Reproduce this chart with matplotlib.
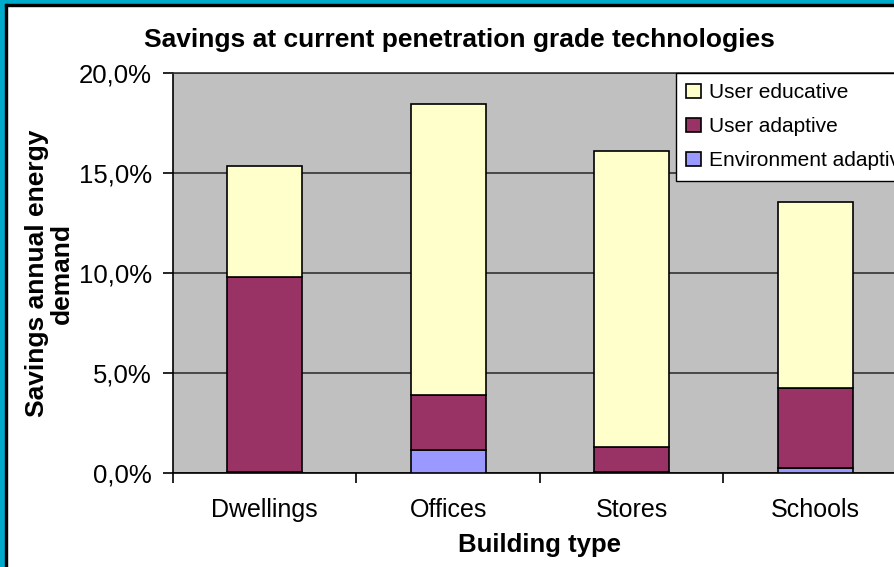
import numpy as np
import matplotlib
matplotlib.use("Agg")
import matplotlib.pyplot as plt
from matplotlib.patches import Rectangle
from matplotlib.ticker import FuncFormatter

# --- data (percent of annual energy demand) ---------------------------------
categories = ["Dwellings", "Offices", "Stores", "Schools"]
env_adaptive = [0.05, 1.15, 0.05, 0.25]
user_adaptive = [9.75, 2.75, 1.25, 4.0]
user_educative = [5.55, 14.55, 14.8, 9.3]

plt.rcParams["font.family"] = ["Liberation Sans", "DejaVu Sans"]

fig = plt.figure(figsize=(8.95, 5.67), dpi=100)
fig.patch.set_facecolor("white")

W, H = 895, 567
ax = fig.add_axes([173 / W, 1 - 473 / H, (907 - 173) / W, (473 - 73) / H])
ax.set_facecolor("#C0C0C0")

x = np.arange(len(categories))
env = np.array(env_adaptive)
ua = np.array(user_adaptive)
ue = np.array(user_educative)

bw = 0.41
kw = dict(width=bw, edgecolor="black", linewidth=1.2, zorder=3)
ax.bar(x, env, color="#9999FF", label="Environment adaptive", **kw)
ax.bar(x, ua, bottom=env, color="#993366", label="User adaptive", **kw)
ax.bar(x, ue, bottom=env + ua, color="#FFFFCC", label="User educative", **kw)

ax.set_xlim(-0.5, len(categories) - 0.5)
ax.set_ylim(0, 20)
ax.set_yticks([0, 5, 10, 15, 20])
ax.yaxis.set_major_formatter(FuncFormatter(lambda v, _: f"{v:.1f}%".replace(".", ",")))
ax.grid(axis="y", color="#333333", linewidth=1.2, zorder=1)

ax.set_xticks(x)
ax.set_xticklabels(categories)
ax.set_xticks(np.arange(len(categories) + 1) - 0.5, minor=True)
ax.tick_params(axis="x", which="major", length=0, pad=18, labelsize=18)
ax.tick_params(axis="x", which="minor", length=7, width=1.2, direction="out")
ax.tick_params(axis="y", length=7, width=1.2, direction="out", pad=8, labelsize=18.5)

for side in ["left", "bottom"]:
    ax.spines[side].set_color("black")
    ax.spines[side].set_linewidth(1.2)
ax.spines["top"].set_color("#333333")
ax.spines["top"].set_linewidth(1.2)
ax.spines["right"].set_visible(False)

ax.set_xlabel("Building type", fontsize=18.5, fontweight="bold", labelpad=8)
ax.set_ylabel("Savings annual energy\ndemand", fontsize=19, fontweight="bold",
              labelpad=4, linespacing=1.05)

fig.text(459 / W, 1 - 40 / H, "Savings at current penetration grade technologies",
         ha="center", va="center", fontsize=19, fontweight="bold")

handles, labels = ax.get_legend_handles_labels()
leg = ax.legend(handles[::-1], labels[::-1], loc="upper left",
                bbox_to_anchor=(676 / W, 1 - 73 / H), bbox_transform=fig.transFigure,
                fontsize=15, frameon=True, fancybox=False, framealpha=1,
                edgecolor="black", handlelength=0.7, handleheight=0.7,
                handletextpad=0.4, borderpad=0.5, labelspacing=0.72,
                borderaxespad=0)
leg.get_frame().set_linewidth(1.0)
leg.set_zorder(5)

# teal frame on the left and top edges
fig.patches.append(Rectangle((0, 0), 5 / W, 1, transform=fig.transFigure,
                             color="#00AACC", zorder=10))
fig.patches.append(Rectangle((0, 1 - 4 / H), 1, 4 / H, transform=fig.transFigure,
                             color="#00AACC", zorder=10))
fig.patches.append(Rectangle((5 / W, 0), 2 / W, 1 - 4 / H, transform=fig.transFigure,
                             color="black", zorder=10))
fig.patches.append(Rectangle((5 / W, 1 - 6 / H), 1, 2 / H, transform=fig.transFigure,
                             color="black", zorder=10))

fig.savefig("out.png", dpi=100)
